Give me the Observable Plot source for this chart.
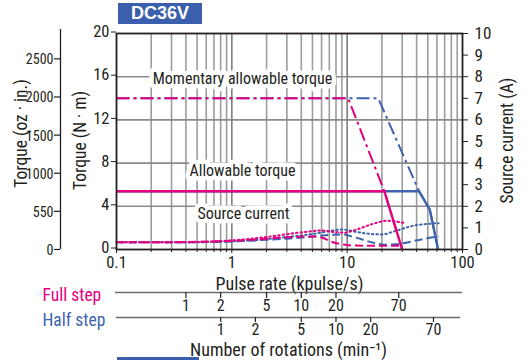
<!DOCTYPE html>
<html><head><meta charset="utf-8">
<script src="https://cdn.jsdelivr.net/npm/d3@7"></script>
<script src="https://cdn.jsdelivr.net/npm/@observablehq/plot@0.6"></script>
<style>
body{margin:0;background:#fff;}
#wrap{position:relative;width:529px;height:360px;overflow:hidden;}
#title{position:absolute;left:118px;top:3px;width:84px;height:21px;background:#3b5fac;color:#fff;font:bold 18px "Liberation Sans",Arial,sans-serif;text-align:center;line-height:21px;z-index:2;}
#bar{position:absolute;left:117px;top:357px;width:82px;height:3px;background:#3b5fac;z-index:2;}
#chart{position:absolute;left:0;top:0;}
</style></head><body>
<div id="wrap"><div id="chart"></div><div id="title">DC36V</div><div id="bar"></div></div>
<script>
// ---- data ----
const xTicks = [0.1, 1, 10, 100];
const xTickLabels = ["0.1", "1", "10", "100"];
const torqueTicks = [0, 4, 8, 12, 16, 20];
const currentTicks = [0, 1, 2, 3, 4, 5, 6, 7, 8, 9, 10];
const ozTicks = [0, 500, 1000, 1500, 2000, 2500];
const ozTickLabels = ["0", "550", "1000", "1500", "2000", "2500"];
const fullStepRot = [1, 2, 5, 10, 20, 70];
const halfStepRot = [1, 2, 5, 10, 20, 70];

// allowable torque (N·m)
const fullAllowX = [0.1, 21, 30];
const fullAllowT = [5.4, 5.4, 0];
const halfAllowX = [0.1, 42, 52, 61.5];
const halfAllowT = [5.4, 5.4, 3.7, 0];
// momentary allowable torque (N·m)
const fullMomX = [0.1, 10.2, 21, 30];
const fullMomT = [14, 14, 5.4, 0];
const halfMomX = [0.1, 18.6, 42, 52, 61.5];
const halfMomT = [14, 14, 5.4, 3.7, 0];
// source current (A)
const fullCurDashX = [0.1, 0.3, 0.5, 1, 2, 3, 5, 6, 7.3, 9, 12, 20, 30];
const fullCurDashA = [0.33, 0.33, 0.36, 0.4, 0.5, 0.57, 0.6, 0.56, 0.36, 0.24, 0.18, 0.17, 0.17];
const fullCurDotX = [0.1, 0.3, 1, 2, 3.2, 5, 6, 8, 9.5, 12, 17, 22, 31];
const fullCurDotA = [0.33, 0.33, 0.42, 0.58, 0.73, 0.85, 0.88, 0.8, 0.78, 0.92, 1.2, 1.33, 1.23];
const halfCurDashX = [0.1, 0.3, 1, 2, 3, 5, 9, 11.5, 17, 21, 26, 45, 62];
const halfCurDashA = [0.33, 0.33, 0.37, 0.45, 0.5, 0.6, 0.7, 0.57, 0.31, 0.22, 0.24, 0.48, 0.62];
const halfCurDotX = [0.1, 0.3, 1, 2, 3, 5, 7, 9, 12.4, 16, 20, 26, 36, 62];
const halfCurDotA = [0.33, 0.33, 0.38, 0.48, 0.58, 0.72, 0.85, 0.93, 0.8, 0.72, 0.7, 0.85, 1.08, 1.22];

// ---- layout ----
const W = 529, H = 360, mL = 116, mR = 67, mT = 33, mB = 111;
const PINK = "#e4007f", BLUE = "#3d63ae", INK = "#231f20", GRID = "#9d9d9d";
const FONT = '"Liberation Sans Narrow","Roboto Condensed","DejaVu Sans Condensed","Liberation Sans",sans-serif';
const OZ_PER_NM = 141.612;
const FULL_K = 0.4, HALF_K = 0.8; // kpulse/s per rotation unit
const xPx = d3.scaleLog().domain([0.1, 100]).range([mL, W - mR]);
const yPx = d3.scaleLinear().domain([0, 20]).range([H - mB, mT]);
const X = p => xPx.invert(p), Y = p => yPx.invert(p);
const rows = (xs, ys, k = 1) => xs.map((x, i) => ({x, y: ys[i] * k}));
const gridX = [];
for (const e of [-1, 0, 1]) for (let m = 1; m <= 9; m++) gridX.push(+(m * 10 ** e).toPrecision(3));
const gridMinor = gridX.filter(v => !xTicks.includes(v));

const lineOpt = (stroke, w, dash, curve = "linear") => ({x: "x", y: "y", stroke, strokeWidth: w, strokeDasharray: dash, curve, strokeLinecap: dash && dash.startsWith("1.") ? "round" : "butt"});
const DASHDOT = "13,4,3,4", DASH = "8,4", DOT = "1.5,3";
const note = (t, px, py) => Plot.text([t], {x: X(px), y: Y(py), text: d => d, fill: INK, stroke: "white", strokeWidth: 9, paintOrder: "stroke", fontSize: 16});

const plot = Plot.plot({
  width: W, height: H,
  marginLeft: mL, marginRight: mR, marginTop: mT, marginBottom: mB,
  x: {type: "log", domain: [0.1, 100]},
  y: {domain: [0, 20]},
  style: {fontFamily: FONT, fontSize: "16px", color: INK, background: "white", overflow: "visible"},
  marks: [
    Plot.ruleX(gridMinor, {stroke: GRID, strokeWidth: 1.6}),
    Plot.ruleX([1, 10], {stroke: "#7d7d7d", strokeWidth: 1.6}),
    Plot.ruleY(torqueTicks.filter(t => t > 0 && t < 20), {stroke: "#8a8a8a", strokeWidth: 1.6}),
    // annotation labels
    note("Momentary allowable torque", 242, 78),
    note("Allowable torque", 242, 170),
    note("Source current", 243, 213),
    // half step (blue)
    Plot.line(rows(halfCurDotX, halfCurDotA, 2), lineOpt(BLUE, 2, DOT, "monotone-x")),
    Plot.line(rows(halfCurDashX, halfCurDashA, 2), lineOpt(BLUE, 2, DASH, "monotone-x")),
    Plot.line(rows(halfMomX, halfMomT), lineOpt(BLUE, 2, DASHDOT)),
    Plot.line(rows(halfAllowX, halfAllowT), lineOpt(BLUE, 2.4)),
    // full step (pink)
    Plot.line(rows(fullCurDotX, fullCurDotA, 2), lineOpt(PINK, 2, DOT, "monotone-x")),
    Plot.line(rows(fullCurDashX, fullCurDashA, 2), lineOpt(PINK, 2, DASH, "monotone-x")),
    Plot.line(rows(fullMomX, fullMomT), lineOpt(PINK, 2, DASHDOT)),
    Plot.line(rows(fullAllowX, fullAllowT), lineOpt(PINK, 2.4)),
    Plot.frame({stroke: INK, strokeWidth: 1.8}),
    // axes
    Plot.axisY({ticks: torqueTicks, tickSize: 5, tickPadding: 2, label: null, fontSize: 16.5, stroke: INK, dy: -1.5}),
    Plot.axisY({anchor: "right", ticks: currentTicks.map(a => a * 2), tickFormat: d => String(d / 2), tickSize: 5, tickPadding: 7, label: null, fontSize: 17, stroke: INK}),
    Plot.axisX({ticks: gridMinor, tickFormat: () => "", tickSize: 3, label: null, stroke: INK}),
    Plot.axisX({ticks: xTicks, tickFormat: d => xTickLabels[xTicks.indexOf(d)], tickSize: 4, tickPadding: 3, label: null, fontSize: 16.5, stroke: INK}),
    // oz·in axis
    Plot.ruleX([X(60)], {y1: Y(29), y2: 0, stroke: INK, strokeWidth: 1.3}),
    Plot.ruleY(ozTicks, {y: d => d / OZ_PER_NM, x1: X(54), x2: X(60), stroke: INK, strokeWidth: 1.2}),
    Plot.text(ozTicks, {x: X(53), y: d => d / OZ_PER_NM, text: (d, i) => ozTickLabels[i], textAnchor: "end", fontSize: 14, fill: INK, dy: 1, ariaLabel: "oz-labels"}),
    // axis titles
    Plot.text(["Torque (oz · in.)"], {x: X(21), y: Y(133), text: d => d, rotate: -90, fontSize: 17.5, fill: INK}),
    Plot.text(["Torque (N · m)"], {x: X(80), y: Y(140), text: d => d, rotate: -90, fontSize: 17.5, fill: INK}),
    Plot.text(["Source current (A)"], {x: X(507), y: Y(140), text: d => d, rotate: -90, fontSize: 17.5, fill: INK}),
    Plot.text(["Pulse rate (kpulse/s)"], {x: X(289), y: Y(283.5), text: d => d, fontSize: 18, fill: INK}),
    // rotation axes
    Plot.text(["Full step"], {x: X(42), y: Y(295), text: d => d, textAnchor: "start", fontSize: 17.5, fill: PINK}),
    Plot.text(["Half step"], {x: X(42), y: Y(320), text: d => d, textAnchor: "start", fontSize: 17.5, fill: BLUE}),
    Plot.ruleY([Y(292)], {x1: X(115), x2: X(462), stroke: "#6b6b6b", strokeWidth: 1.6}),
    Plot.ruleX(fullStepRot, {x: r => r * FULL_K, y1: Y(292), y2: Y(298), stroke: INK, strokeWidth: 1.2}),
    Plot.text(fullStepRot, {x: r => r * FULL_K, y: Y(305.5), text: r => String(r), fontSize: 16, fill: INK}),
    Plot.ruleY([Y(317)], {x1: X(116), x2: X(460), stroke: "#6b6b6b", strokeWidth: 1.6}),
    Plot.ruleX(halfStepRot, {x: r => r * HALF_K, y1: Y(317), y2: Y(322), stroke: INK, strokeWidth: 1.2}),
    Plot.text(halfStepRot, {x: r => r * HALF_K, y: Y(329.5), text: r => String(r), fontSize: 16, fill: INK}),
    Plot.text(["Number of rotations (min⁻¹)"], {x: X(288), y: Y(350), text: d => d, fontSize: 18, fill: INK})
  ]
});
document.getElementById("chart").appendChild(plot);
// condense the oz·in tick labels like the reference's narrow type
d3.select(plot).selectAll('g[aria-label="oz-labels"] text').each(function () {
  const w = this.getComputedTextLength();
  this.setAttribute("textLength", (w * 0.8).toFixed(1));
  this.setAttribute("lengthAdjust", "spacingAndGlyphs");
});
</script>
</body></html>
